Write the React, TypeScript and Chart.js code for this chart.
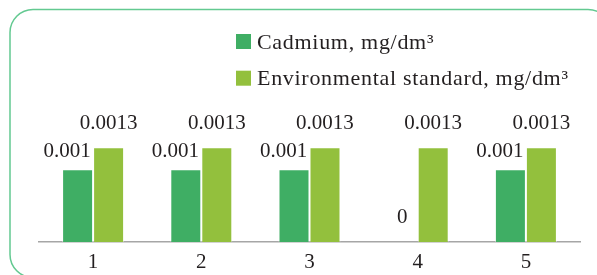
import React, { useEffect, useRef } from "react";
import { Chart, registerables } from "chart.js";

Chart.register(...registerables);

const categories = ["1", "2", "3", "4", "5"];
const cadmium = [0.001, 0.001, 0.001, 0, 0.001];
const standard = [0.0013, 0.0013, 0.0013, 0.0013, 0.0013];
const seriesLabels = ["Cadmium, mg/dm³", "Environmental standard, mg/dm³"];
const seriesColors = ["#3fae64", "#93c03d"];

const FONT_FAMILY = '"Liberation Serif", "DejaVu Serif", serif';
const TEXT_COLOR = "#231f20";

const framePlugin = {
  id: "frame",
  beforeDraw(chart: any) {
    const ctx = chart.ctx;
    ctx.save();
    ctx.strokeStyle = "#63c991";
    ctx.lineWidth = 1.5;
    ctx.beginPath();
    ctx.roundRect(10, 9.5, 601, 268, 23);
    ctx.stroke();
    ctx.restore();
  },
};

const valueLabelPlugin = {
  id: "valueLabels",
  afterDatasetsDraw(chart: any) {
    const ctx = chart.ctx;
    ctx.save();
    ctx.font = `21px ${FONT_FAMILY}`;
    ctx.fillStyle = TEXT_COLOR;
    ctx.textAlign = "center";
    ctx.textBaseline = "alphabetic";
    chart.data.datasets.forEach((ds: any, di: number) => {
      const meta = chart.getDatasetMeta(di);
      meta.data.forEach((bar: any, i: number) => {
        const v = ds.data[i];
        let dx = 0;
        let dy = -18;
        if (di === 0) {
          if (v === 0) {
            dy = -19;
          } else {
            dx = -10.5;
            dy = -12;
          }
        }
        ctx.fillText(String(v), bar.x + dx, bar.y + dy);
      });
    });
    ctx.restore();
  },
};

const legendPlugin = {
  id: "customLegend",
  afterDraw(chart: any) {
    const ctx = chart.ctx;
    ctx.save();
    ctx.font = `22px ${FONT_FAMILY}`;
    (ctx as any).letterSpacing = "0.7px";
    ctx.textAlign = "left";
    ctx.textBaseline = "alphabetic";
    chart.data.datasets.forEach((ds: any, di: number) => {
      const top = 34 + di * 36.7;
      ctx.fillStyle = ds.backgroundColor;
      ctx.fillRect(236, top, 15, 15);
      ctx.fillStyle = TEXT_COLOR;
      ctx.fillText(ds.label, 257, top + 14.5);
    });
    ctx.restore();
  },
};

export default function App() {
  const canvasRef = useRef<HTMLCanvasElement | null>(null);

  useEffect(() => {
    if (!canvasRef.current) return;
    const chart = new Chart(canvasRef.current, {
      type: "bar",
      data: {
        labels: categories,
        datasets: [
          {
            label: seriesLabels[0],
            data: cadmium,
            backgroundColor: seriesColors[0],
            borderColor: "rgba(255,255,255,0.45)",
            borderWidth: 1,
          },
          {
            label: seriesLabels[1],
            data: standard,
            backgroundColor: seriesColors[1],
            borderColor: "rgba(255,255,255,0.45)",
            borderWidth: 1,
          },
        ],
      },
      options: {
        animation: false,
        responsive: false,
        maintainAspectRatio: false,
        devicePixelRatio: 1,
        layout: { padding: { left: 39, right: 17, top: 140, bottom: 0 } },
        datasets: {
          bar: { categoryPercentage: 0.573, barPercentage: 1 },
        },
        plugins: {
          legend: { display: false },
          tooltip: { enabled: false },
        },
        scales: {
          x: {
            grid: { display: false, drawTicks: false },
            border: { display: true, color: "#a6a6a6", width: 1.5 },
            ticks: {
              font: { family: FONT_FAMILY, size: 21 },
              color: TEXT_COLOR,
              padding: 8,
            },
            afterFit: (s: any) => {
              s.height = 33;
            },
          },
          y: {
            display: false,
            min: 0,
            max: 0.0014,
          },
        },
      },
      plugins: [framePlugin, valueLabelPlugin, legendPlugin],
    });
    return () => chart.destroy();
  }, []);

  return (
    <div
      style={{
        position: "fixed",
        left: 0,
        top: 0,
        width: 597,
        height: 275,
        overflow: "hidden",
        background: "#ffffff",
      }}
    >
      <canvas ref={canvasRef} width={597} height={275} style={{ display: "block" }} />
    </div>
  );
}
